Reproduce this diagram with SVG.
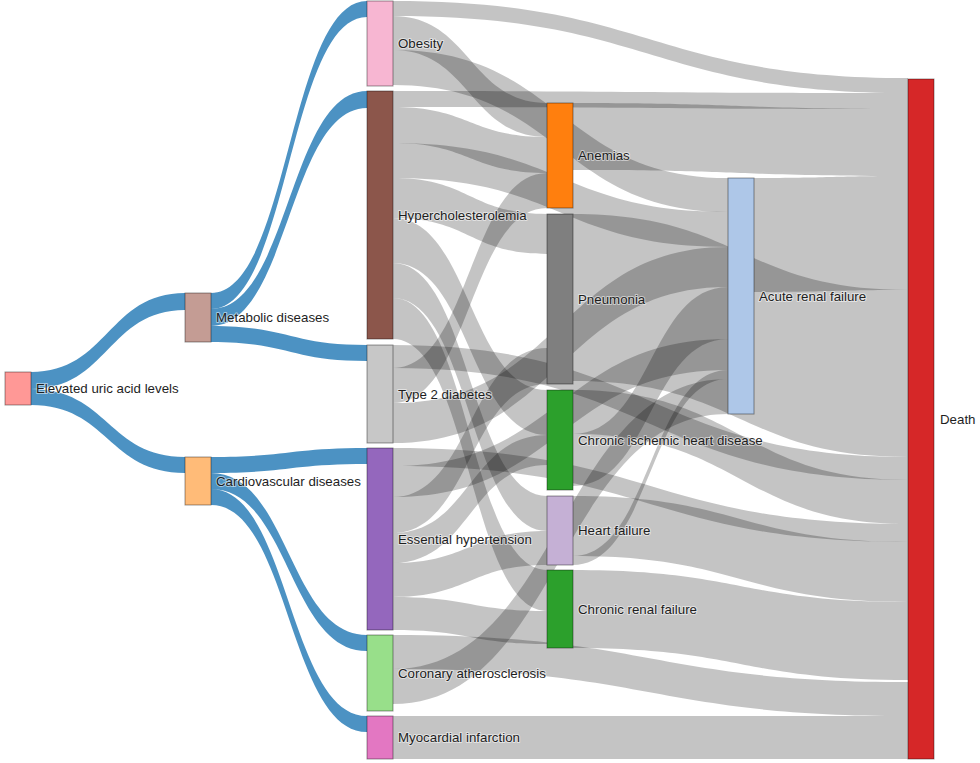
<svg xmlns="http://www.w3.org/2000/svg" width="980" height="763" viewBox="0 0 980 763">
<style>
.lk{fill:#000;fill-opacity:0.23}
.bl{fill:#1f77b4;fill-opacity:0.8}
.nd{stroke:#000;stroke-opacity:0.4;stroke-width:1}
text{font-family:"Liberation Sans",Arial,sans-serif;font-size:13.3px;fill:#1e1e1e;stroke:#fff;stroke-width:2;stroke-opacity:0.5;paint-order:stroke;stroke-linejoin:round}
</style>
<rect width="980" height="763" fill="#fff"/>
<g id="connectors">
<g id="blue-links">
<path class="bl" d="M31 372C108 372 108 293 185 293L185 310C108 310 108 389 31 389Z"/>
<path class="bl" d="M31 389C108 389 108 457 185 457L185 473C108 473 108 405 31 405Z"/>
<path class="bl" d="M211 293C289 293 289 1 367 1L367 17C289 17 289 309 211 309Z"/>
<path class="bl" d="M211 309C289 309 289 91 367 91L367 108C289 108 289 326 211 326Z"/>
<path class="bl" d="M211 326C289 326 289 345 367 345L367 361C289 361 289 342 211 342Z"/>
<path class="bl" d="M211 457C289 457 289 448 367 448L367 464C289 464 289 473 211 473Z"/>
<path class="bl" d="M211 473C289 473 289 635 367 635L367 651C289 651 289 489 211 489Z"/>
<path class="bl" d="M211 489C289 489 289 716 367 716L367 732C289 732 289 505 211 505Z"/>
</g>
<g id="gray-links">
<path class="lk" d="M393 1C650.5 1 650.5 78 908 78L908 93C650.5 93 650.5 16 393 16Z"/>
<path class="lk" d="M393 16C470 16 470 103 547 103L547 137C470 137 470 50 393 50Z"/>
<path class="lk" d="M393 50C560.5 50 560.5 178 728 178L728 212C560.5 212 560.5 85 393 85Z"/>
<path class="lk" d="M393 91C650.5 91 650.5 93 908 93L908 109C650.5 109 650.5 107 393 107Z"/>
<path class="lk" d="M393 107C470 107 470 137 547 137L547 173C470 173 470 143 393 143Z"/>
<path class="lk" d="M393 143C560.5 143 560.5 212 728 212L728 247C560.5 247 560.5 178 393 178Z"/>
<path class="lk" d="M393 178C470 178 470 214 547 214L547 254C470 254 470 218 393 218Z"/>
<path class="lk" d="M393 218C470 218 470 390 547 390L547 435C470 435 470 263 393 263Z"/>
<path class="lk" d="M393 263C470 263 470 496 547 496L547 531C470 531 470 298 393 298Z"/>
<path class="lk" d="M393 298C470 298 470 570 547 570L547 611C470 611 470 339 393 339Z"/>
<path class="lk" d="M393 345C650.5 345 650.5 457 908 457L908 480C650.5 480 650.5 368 393 368Z"/>
<path class="lk" d="M393 368C470 368 470 173 547 173L547 208C470 208 470 403 393 403Z"/>
<path class="lk" d="M393 403C560.5 403 560.5 247 728 247L728 287C560.5 287 560.5 443 393 443Z"/>
<path class="lk" d="M393 448C650.5 448 650.5 524 908 524L908 542C650.5 542 650.5 466 393 466Z"/>
<path class="lk" d="M393 466C560.5 466 560.5 339 728 339L728 370C560.5 370 560.5 497 393 497Z"/>
<path class="lk" d="M393 497C470 497 470 348 547 348L547 384C470 384 470 533 393 533Z"/>
<path class="lk" d="M393 533C470 533 470 435 547 435L547 465C470 465 470 563 393 563Z"/>
<path class="lk" d="M393 563C470 563 470 531 547 531L547 565C470 565 470 597 393 597Z"/>
<path class="lk" d="M393 597C470 597 470 611 547 611L547 644C470 644 470 630 393 630Z"/>
<path class="lk" d="M393 635C650.5 635 650.5 682 908 682L908 716C650.5 716 650.5 669 393 669Z"/>
<path class="lk" d="M393 669C560.5 669 560.5 379 728 379L728 414C560.5 414 560.5 704 393 704Z"/>
<path class="lk" d="M393 716L908 716L908 759L393 759Z"/>
<path class="lk" d="M573 103C740.5 103 740.5 109 908 109L908 176C740.5 176 740.5 170 573 170Z"/>
<path class="lk" d="M573 214C740.5 214 740.5 290 908 290L908 457C740.5 457 740.5 381 573 381Z"/>
<path class="lk" d="M573 390C740.5 390 740.5 480 908 480L908 524C740.5 524 740.5 434 573 434Z"/>
<path class="lk" d="M573 434C650.5 434 650.5 287 728 287L728 339C650.5 339 650.5 486 573 486Z"/>
<path class="lk" d="M573 496C740.5 496 740.5 542 908 542L908 602C740.5 602 740.5 556 573 556Z"/>
<path class="lk" d="M573 556C650.5 556 650.5 370 728 370L728 379C650.5 379 650.5 565 573 565Z"/>
<path class="lk" d="M573 570C740.5 570 740.5 602 908 602L908 680C740.5 680 740.5 648 573 648Z"/>
<path class="lk" d="M754 178C831 178 831 176 908 176L908 290C831 290 831 292 754 292Z"/>
</g>
</g>
<g id="node-elevated"><rect class="nd" x="5" y="372" width="26" height="33" fill="#ff9896"/><text x="36" y="388.5" dy="0.35em">Elevated uric acid levels</text></g>
<g id="node-metabolic"><rect class="nd" x="185" y="293" width="26" height="49" fill="#c49c94"/><text x="216" y="317.5" dy="0.35em">Metabolic diseases</text></g>
<g id="node-cardiovascular"><rect class="nd" x="185" y="457" width="26" height="48" fill="#ffbb78"/><text x="216" y="481" dy="0.35em">Cardiovascular diseases</text></g>
<g id="node-obesity"><rect class="nd" x="367" y="1" width="26" height="85" fill="#f7b6d2"/><text x="398" y="43.5" dy="0.35em">Obesity</text></g>
<g id="node-hypercholesterolemia"><rect class="nd" x="367" y="91" width="26" height="248" fill="#8c564b"/><text x="398" y="215" dy="0.35em">Hypercholesterolemia</text></g>
<g id="node-t2d"><rect class="nd" x="367" y="345" width="26" height="98" fill="#c7c7c7"/><text x="398" y="394" dy="0.35em">Type 2 diabetes</text></g>
<g id="node-hypertension"><rect class="nd" x="367" y="448" width="26" height="182" fill="#9467bd"/><text x="398" y="539" dy="0.35em">Essential hypertension</text></g>
<g id="node-coronary"><rect class="nd" x="367" y="635" width="26" height="76" fill="#98df8a"/><text x="398" y="673" dy="0.35em">Coronary atherosclerosis</text></g>
<g id="node-mi"><rect class="nd" x="367" y="716" width="26" height="43" fill="#e377c2"/><text x="398" y="737.5" dy="0.35em">Myocardial infarction</text></g>
<g id="node-anemias"><rect class="nd" x="547" y="103" width="26" height="105" fill="#ff7f0e"/><text x="578" y="155.5" dy="0.35em">Anemias</text></g>
<g id="node-pneumonia"><rect class="nd" x="547" y="214" width="26" height="170" fill="#7f7f7f"/><text x="578" y="299" dy="0.35em">Pneumonia</text></g>
<g id="node-cihd"><rect class="nd" x="547" y="390" width="26" height="100" fill="#2ca02c"/><text x="578" y="440" dy="0.35em">Chronic ischemic heart disease</text></g>
<g id="node-hf"><rect class="nd" x="547" y="496" width="26" height="69" fill="#c5b0d5"/><text x="578" y="530.5" dy="0.35em">Heart failure</text></g>
<g id="node-crf"><rect class="nd" x="547" y="570" width="26" height="78" fill="#2ca02c"/><text x="578" y="609" dy="0.35em">Chronic renal failure</text></g>
<g id="node-arf"><rect class="nd" x="728" y="178" width="26" height="236" fill="#aec7e8"/><text x="759" y="296" dy="0.35em">Acute renal failure</text></g>
<g id="node-death"><rect class="nd" x="908" y="79" width="26" height="680" fill="#d62728"/><text x="940" y="419" dy="0.35em">Death</text></g>
</svg>
